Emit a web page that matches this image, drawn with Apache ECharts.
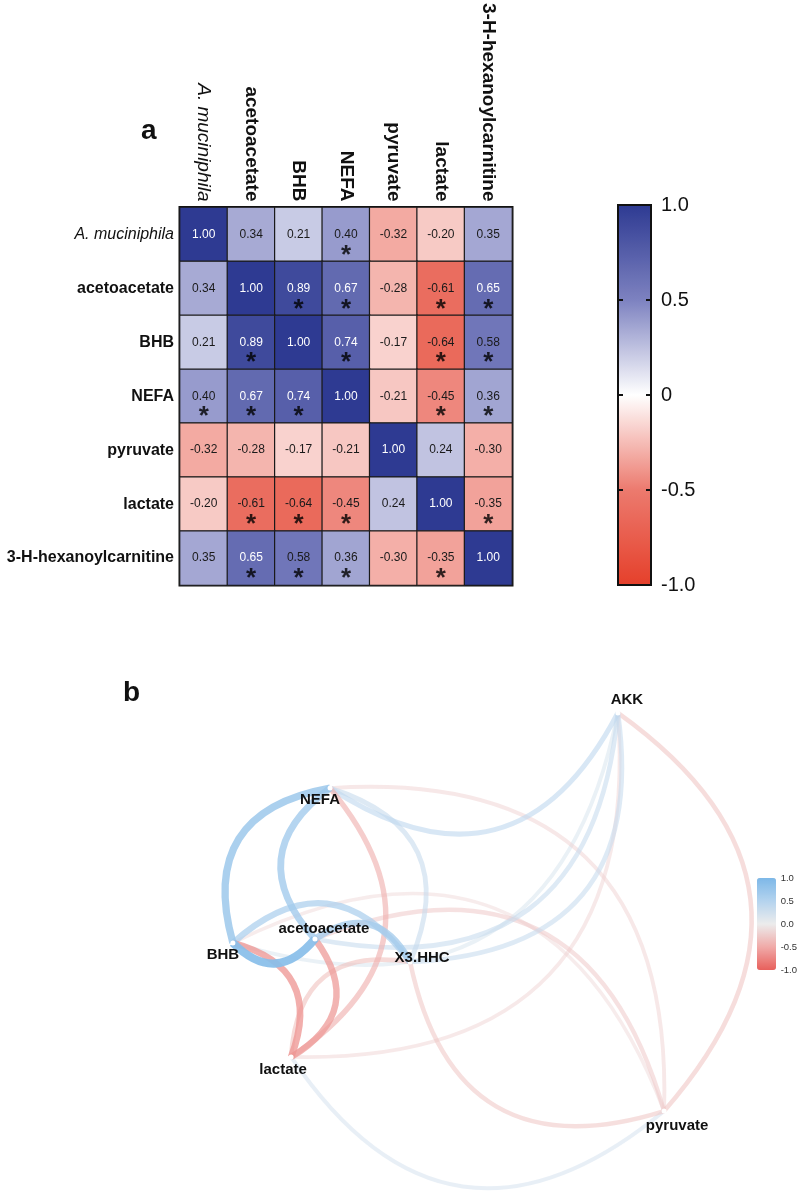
<!DOCTYPE html>
<html><head><meta charset="utf-8">
<script src="https://cdn.jsdelivr.net/npm/echarts@6/dist/echarts.min.js"></script>
<style>html,body{margin:0;padding:0;background:#fff}#c{width:800px;height:1195px}</style>
</head><body><div id="c"></div>
<script>
// ---------- data ----------
const variables = ['A. muciniphila','acetoacetate','BHB','NEFA','pyruvate','lactate','3-H-hexanoylcarnitine'];
const corr = [
  [ 1.00, 0.34, 0.21, 0.40,-0.32,-0.20, 0.35],
  [ 0.34, 1.00, 0.89, 0.67,-0.28,-0.61, 0.65],
  [ 0.21, 0.89, 1.00, 0.74,-0.17,-0.64, 0.58],
  [ 0.40, 0.67, 0.74, 1.00,-0.21,-0.45, 0.36],
  [-0.32,-0.28,-0.17,-0.21, 1.00, 0.24,-0.30],
  [-0.20,-0.61,-0.64,-0.45, 0.24, 1.00,-0.35],
  [ 0.35, 0.65, 0.58, 0.36,-0.30,-0.35, 1.00]
];
const significant = [
  [0,0,0,1,0,0,0],
  [0,0,1,1,0,1,1],
  [0,1,0,1,0,1,1],
  [1,1,1,0,0,1,1],
  [0,0,0,0,0,0,0],
  [0,1,1,1,0,0,1],
  [0,1,1,1,0,1,0]
];
const heatTicks = [1, 0.5, 0, -0.5, -1];
const heatTickLabels = ['1.0','0.5','0','-0.5','-1.0'];

const networkNodes = ['AKK','acetoacetate','BHB','NEFA','pyruvate','lactate','X3.HHC'];
// layout coordinates of the nodes (network layout space, -1..1)
const nodeLayoutX = [ 0.671,-0.411,-0.704,-0.357, 0.836,-0.496,-0.071];
const nodeLayoutY = [ 0.857,-0.126,-0.143, 0.530,-0.874,-0.639,-0.226];
// edges (source -> target)
const networkEdges = [
  ['AKK','acetoacetate'],['AKK','BHB'],['AKK','NEFA'],['AKK','pyruvate'],['AKK','lactate'],['AKK','X3.HHC'],
  ['acetoacetate','BHB'],['acetoacetate','NEFA'],['acetoacetate','pyruvate'],['acetoacetate','lactate'],['acetoacetate','X3.HHC'],
  ['BHB','NEFA'],['BHB','pyruvate'],['BHB','lactate'],['BHB','X3.HHC'],
  ['NEFA','pyruvate'],['NEFA','lactate'],['NEFA','X3.HHC'],
  ['pyruvate','lactate'],['pyruvate','X3.HHC'],
  ['lactate','X3.HHC']
];
const netTicks = [1, 0.5, 0, -0.5, -1];
const netTickLabels = ['1.0','0.5','0.0','-0.5','-1.0'];

// ---------- styles ----------
const heatColors = ['#e5402b','#ec7a6e','#ffffff','#7d82c0','#2e3a92'];
const netColors = ['#e8605c','#f0aaa8','#ececec','#b4d3ee','#7db8e8'];
const labelOffsets = {
  'AKK':[9,-13],'acetoacetate':[9,-10],'BHB':[-10,12],'NEFA':[-10,12],
  'pyruvate':[13,15],'lactate':[-8,13],'X3.HHC':[12,-4]
};

function hexToRgb(h){return [parseInt(h.substr(1,2),16),parseInt(h.substr(3,2),16),parseInt(h.substr(5,2),16)];}
function interpColor(stops, v){ // v in [-1,1], stops evenly spaced
  const t = (v + 1) / 2 * (stops.length - 1);
  const i = Math.min(stops.length - 2, Math.max(0, Math.floor(t)));
  const f = t - i;
  const a = hexToRgb(stops[i]), b = hexToRgb(stops[i+1]);
  return a.map((c,k)=>Math.round(c + (b[k]-c)*f));
}

// heatmap data
const heatData = [];
const starData = [];
for (let r = 0; r < variables.length; r++) {
  for (let c = 0; c < variables.length; c++) {
    const v = corr[r][c];
    heatData.push({value:[c, r, v], label:{color: v > 0.6 ? '#ffffff' : '#1a1a1a'}});
    if (significant[r][c]) starData.push([c, r]);
  }
}

// network data
const nodeData = networkNodes.map((n,i)=>({
  name:n, value:[nodeLayoutX[i], nodeLayoutY[i]],
  label:{offset: labelOffsets[n]}
}));
const linkData = networkEdges.map(([s,t])=>{
  const v = corr[networkNodes.indexOf(s)][networkNodes.indexOf(t)];
  const rgb = interpColor(netColors, v);
  const a = Math.abs(v);
  return {source:s, target:t, value:v,
    lineStyle:{color:'rgb('+rgb.join(',')+')', opacity:0.35 + 0.65*a, width:2.5 + 6.5*a, curveness:0.55}};
}).sort((p,q)=>Math.abs(p.value)-Math.abs(q.value));

const option = {
  animation:false,
  backgroundColor:'#ffffff',
  textStyle:{fontFamily:'Liberation Sans, Arial, sans-serif'},
  title:[
    {text:'a', left:136, top:112, textStyle:{fontSize:28, fontWeight:'bold', color:'#111'}},
    {text:'b', left:118, top:674, textStyle:{fontSize:28, fontWeight:'bold', color:'#111'}}
  ],
  grid:[
    {left:180, top:205, width:332, height:380, show:true, borderColor:'#111', borderWidth:3, backgroundColor:'transparent', z:0},
    {left:618, top:205, width:33, height:380, show:true, borderColor:'#111', borderWidth:2, backgroundColor:'transparent', z:10},
    {left:150, top:680, width:560, height:460, show:false},
    {left:757, top:878, width:19, height:92, show:false}
  ],
  xAxis:[
    {type:'category', gridIndex:0, data:variables, position:'top',
     axisLine:{show:false}, axisTick:{show:false}, splitLine:{show:false},
     axisLabel:{rotate:90, margin:6, fontSize:19, color:'#111', fontWeight:'bold',
       formatter:(v,i)=> i===0 ? '{it|'+v+'}' : v,
       rich:{it:{fontStyle:'italic', fontWeight:'normal', fontSize:19, color:'#111'}}}},
    {type:'value', gridIndex:1, min:0, max:1, show:false},
    {type:'value', gridIndex:2, min:-1, max:1, show:false},
    {type:'value', gridIndex:3, min:0, max:1, show:false}
  ],
  yAxis:[
    {type:'category', gridIndex:0, data:variables, inverse:true,
     axisLine:{show:false}, axisTick:{show:false}, splitLine:{show:false},
     axisLabel:{margin:6, fontSize:16, color:'#111', fontWeight:'bold',
       formatter:(v,i)=> i===0 ? '{it|'+v+'}' : v,
       rich:{it:{fontStyle:'italic', fontWeight:'normal', fontSize:16, color:'#111'}}}},
    {type:'value', gridIndex:1, min:-1, max:1, interval:0.5, position:'left', z:12,
     axisLine:{show:false}, splitLine:{show:false}, axisLabel:{show:false},
     axisTick:{show:true, inside:true, length:5, lineStyle:{color:'#111', width:2}}},
    {type:'value', gridIndex:1, min:-1, max:1, interval:0.5, position:'right', z:12,
     axisLine:{show:false}, splitLine:{show:false},
     axisTick:{show:true, inside:true, length:5, lineStyle:{color:'#111', width:2}},
     axisLabel:{show:true, margin:10, fontSize:20, color:'#111',
       formatter:v=>heatTickLabels[heatTicks.indexOf(v)]}},
    {type:'value', gridIndex:2, min:-1, max:1, show:false},
    {type:'value', gridIndex:3, min:-1, max:1, interval:0.5, position:'right',
     axisLine:{show:false}, splitLine:{show:false}, axisTick:{show:false},
     axisLabel:{show:true, margin:5, fontSize:9.5, color:'#333',
       formatter:v=>netTickLabels[netTicks.indexOf(v)]}}
  ],
  visualMap:[
    {type:'continuous', seriesIndex:0, dimension:2, min:-1, max:1, calculable:false,
     orient:'vertical', left:618, top:205, itemWidth:33, itemHeight:380, padding:0, z:2,
     text:null, showLabel:false, hoverLink:false,
     inRange:{color:heatColors}},
    {type:'continuous', seriesIndex:3, dimension:1, min:-1, max:1, calculable:false,
     orient:'vertical', left:757, top:878, itemWidth:19, itemHeight:92, padding:0,
     text:null, showLabel:false, hoverLink:false,
     inRange:{color:netColors}}
  ],
  series:[
    {type:'heatmap', xAxisIndex:0, yAxisIndex:0, data:heatData,
     itemStyle:{borderColor:'#1a1a1a', borderWidth:1.2},
     label:{show:true, fontSize:12, formatter:p=>p.value[2].toFixed(2)},
     emphasis:{disabled:true}},
    {type:'scatter', xAxisIndex:0, yAxisIndex:0, data:starData, symbolSize:1,
     itemStyle:{color:'rgba(0,0,0,0)'}, z:5, silent:true,
     label:{show:true, formatter:'*', fontSize:26, fontWeight:'bold', color:'#000', offset:[0,21]}},
    {type:'graph', coordinateSystem:'cartesian2d', xAxisIndex:2, yAxisIndex:3,
     data:nodeData, links:linkData, symbol:'circle', symbolSize:5,
     itemStyle:{color:'#ffffff'}, silent:true,
     label:{show:true, position:'inside', fontSize:15, fontWeight:'bold', color:'#111',
       fontFamily:'Liberation Sans, Arial, sans-serif'},
     lineStyle:{curveness:0.55}},
    {type:'scatter', xAxisIndex:3, yAxisIndex:4, data:[], silent:true}
  ]
};
const chart = echarts.init(document.getElementById('c'));
chart.setOption(option);
</script>
</body></html>
